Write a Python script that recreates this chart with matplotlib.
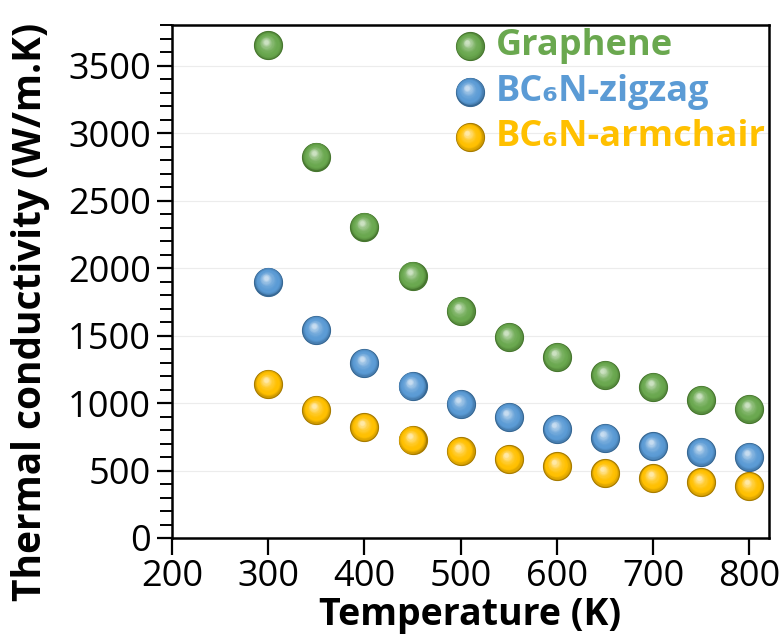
import numpy as np
import matplotlib
matplotlib.use("Agg")
import matplotlib.pyplot as plt
from matplotlib.transforms import offset_copy
from matplotlib.colors import to_rgb
from matplotlib.ticker import MultipleLocator

plt.rcParams['font.family'] = ['Open Sans', 'DejaVu Sans']

temperature = [300, 350, 400, 450, 500, 550, 600, 650, 700, 750, 800]
graphene = [3650, 2826, 2307, 1944, 1684, 1491, 1343, 1209, 1120, 1024, 957]
bc6n_zigzag = [1899, 1543, 1298, 1128, 994, 898, 809, 742, 682, 638, 601]
bc6n_armchair = [1142, 950, 823, 727, 645, 586, 534, 482, 445, 415, 386]

labels = ['Graphene', 'BC₆N-zigzag', 'BC₆N-armchair']
colors = ['#6aa84f', '#5b9bd5', '#ffc000']
darks = ['#47772f', '#376894', '#a87c00']


def mix(c1, c2, t):
    a, b = np.array(to_rgb(c1)), np.array(to_rgb(c2))
    return tuple(a + (b - a) * t)


def spheres(ax, x, y, color, dark, size=21, transform=None):
    # fake shaded balls: stack of shrinking discs shifted to the upper left
    fig = ax.figure
    base = transform if transform is not None else ax.transData
    ax.scatter(x, y, s=size ** 2, color=dark, lw=0, transform=base, zorder=3)
    n = 20
    for i in range(n):
        t = i / (n - 1)
        d = size * (0.97 - 0.82 * t)
        off = size * 0.13 * t
        if t < 0.25:
            col = mix(dark, color, (t / 0.25) ** 0.5)
        else:
            col = mix(color, 'white', 0.65 * ((t - 0.25) / 0.75) ** 2)
        tr = offset_copy(base, fig, x=-off * 0.7, y=off, units='points')
        ax.scatter(x, y, s=d ** 2, color=col, lw=0, transform=tr, zorder=3 + i * 0.01)


fig = plt.figure(figsize=(7.83, 6.44), dpi=100)
ax = fig.add_axes([0.2197, 0.1646, 0.762, 0.7964])

for ys, c, dk in zip([graphene, bc6n_zigzag, bc6n_armchair], colors, darks):
    spheres(ax, temperature, ys, c, dk)

ax.set_xlim(200, 820)
ax.set_ylim(0, 3800)
ax.xaxis.set_major_locator(MultipleLocator(100))
ax.yaxis.set_major_locator(MultipleLocator(500))
ax.yaxis.set_minor_locator(MultipleLocator(100))
ax.grid(axis='y', which='major', color='#ececec', lw=0.8, zorder=0)
ax.set_axisbelow(True)

for s in ax.spines.values():
    s.set_linewidth(1.8)
ax.tick_params(axis='both', which='major', direction='out', length=11, width=1.6,
               labelsize=26, pad=4)
ax.tick_params(axis='y', which='minor', direction='out', length=9, width=1.4)
ax.tick_params(axis='x', which='major', length=12, pad=3)

ax.set_xlabel('Temperature (K)', fontsize=27, fontweight='bold', labelpad=1)
ax.set_ylabel('Thermal conductivity (W/m.K)', fontsize=28, fontweight='bold')
ax.yaxis.set_label_coords(-0.205, 0.44)

# legend drawn by hand so the markers get the same shading
for k, (lab, c, dk) in enumerate(zip(labels, colors, darks)):
    yy = 0.959 - k * 0.0885
    spheres(ax, [0.499], [yy], c, dk, size=21, transform=ax.transAxes)
    ax.text(0.542, yy, lab, transform=ax.transAxes, color=c, fontsize=26,
            fontweight='bold', va='center', ha='left')

fig.savefig('out.png', dpi=100)
